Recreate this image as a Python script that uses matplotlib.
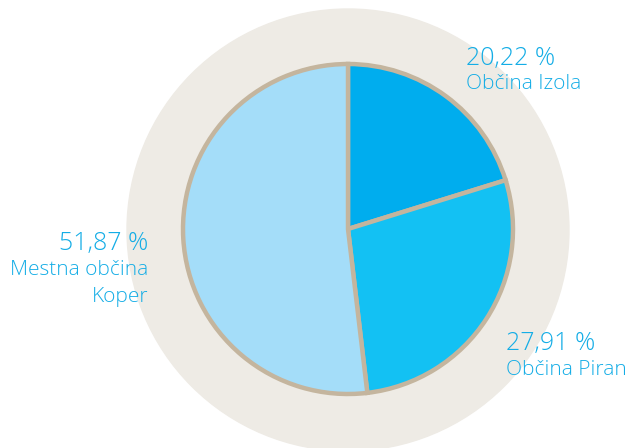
import matplotlib
matplotlib.use("Agg")
import matplotlib.pyplot as plt
import matplotlib.patches as mpatches

obcine = ["Občina Izola", "Občina Piran", "Mestna občina\nKoper"]
deleži = [20.22, 27.91, 51.87]
oznake = ["20,22 %", "27,91 %", "51,87 %"]
barve = ["#00adee", "#13c1f3", "#a4ddf9"]

modra = "#14ade6"
plt.rcParams['font.family'] = ['Open Sans', 'DejaVu Sans']

fig = plt.figure(figsize=(6.3, 4.48), dpi=100)
ax = fig.add_axes([0, 0, 1, 1])
ax.set_xlim(0, 630)
ax.set_ylim(0, 448)
ax.set_aspect("equal")
ax.axis("off")

ozadje = mpatches.Circle((348, 218), 221, color="#eeebe5", zorder=0)
ax.add_patch(ozadje)

ax.pie(deleži, colors=barve, startangle=90, counterclock=False,
       center=(348, 219), radius=165,
       wedgeprops=dict(edgecolor="#c4b59e", linewidth=3.2))
ax.set_xlim(0, 630)
ax.set_ylim(0, 448)

# napisi ob izsekih (osnovna črta v slikovnih pikah od vrha)
mesta = [(466, 65, 89, "left"), (506, 350, 375, "left"), (148, 250, 275, "right")]
for (x, y1, y2, poravnava), o, ime in zip(mesta, oznake, obcine):
    ax.text(x, 448 - y1, o, ha=poravnava, va="baseline", fontsize=18, color=modra,
            fontweight=300)
    vrstice = ime.split("\n")
    for i, v in enumerate(vrstice):
        ax.text(x, 448 - y2 - 27 * i, v, ha=poravnava, va="baseline", fontsize=15,
                color=modra, fontweight=300)

fig.savefig("out.png", dpi=100)
